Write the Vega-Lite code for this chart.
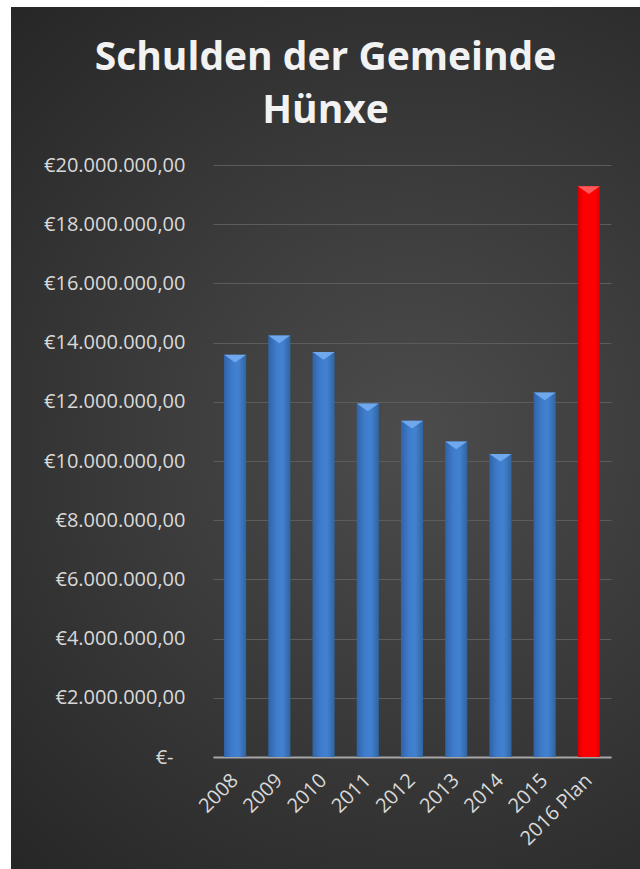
{
  "$schema": "https://vega.github.io/schema/vega-lite/v6.json",
  "autosize": {"type": "none"},
  "padding": {"left": 11, "top": 7, "right": 0, "bottom": 0},
  "width": 629,
  "height": 862,
  "background": "white",
  "title": {
    "text": ["Schulden der Gemeinde", "Hünxe"],
    "font": "Open Sans",
    "fontSize": 39,
    "fontWeight": "bold",
    "color": "#f2f2f2",
    "anchor": "middle",
    "frame": "group",
    "baseline": "top",
    "lineHeight": 53,
    "offset": -124
  },
  "data": {
    "values": [
      {"year": "2008", "value": 13590000},
      {"year": "2009", "value": 14240000},
      {"year": "2010", "value": 13680000},
      {"year": "2011", "value": 11940000},
      {"year": "2012", "value": 11360000},
      {"year": "2013", "value": 10660000},
      {"year": "2014", "value": 10240000},
      {"year": "2015", "value": 12310000},
      {"year": "2016 Plan", "value": 19280000}
    ]
  },
  "encoding": {
    "x": {
      "field": "year",
      "type": "nominal",
      "sort": null,
      "scale": {"range": [202, 600], "paddingInner": 0.5, "paddingOuter": 0.25},
      "axis": {
        "orient": "bottom",
        "offset": -112,
        "title": null,
        "domainColor": "#a6a6a6",
        "domainWidth": 2,
        "ticks": false,
        "tickSize": 0,
        "labelAngle": -45,
        "labelAlign": "right",
        "labelBaseline": "middle",
        "labelPadding": 20,
        "labelFont": "Open Sans",
        "labelFontSize": 20,
        "labelColor": "#d9d9d9"
      }
    },
    "y": {
      "field": "value",
      "type": "quantitative",
      "scale": {"domain": [0, 20000000], "range": [750, 158], "nice": false},
      "axis": {
        "orient": "left",
        "offset": -174,
        "title": null,
        "domain": false,
        "ticks": false,
        "tickSize": 0,
        "labelPadding": {"condition": {"test": "datum.value == 0", "value": 12}, "value": 0},
        "values": [0, 2000000, 4000000, 6000000, 8000000, 10000000, 12000000, 14000000, 16000000, 18000000, 20000000],
        "labelExpr": "datum.value == 0 ? '€-' : '€' + format(datum.value / 1000000, 'd') + '.000.000,00'",
        "labelFont": "Open Sans",
        "labelFontSize": 20,
        "labelColor": "#d9d9d9",
        "grid": true,
        "gridColor": "#5c5c5c",
        "gridWidth": 1.2
      }
    }
  },
  "layer": [
    {
      "mark": {"type": "bar"},
      "encoding": {
        "color": {
          "condition": {
            "test": "datum.year === '2016 Plan'",
            "value": {
              "gradient": "linear", "x1": 0, "y1": 0, "x2": 1, "y2": 0,
              "stops": [
                {"offset": 0, "color": "#d40000"},
                {"offset": 0.25, "color": "#ff0000"},
                {"offset": 0.8, "color": "#ff0000"},
                {"offset": 1, "color": "#d40000"}
              ]
            }
          },
          "value": {
            "gradient": "linear", "x1": 0, "y1": 0, "x2": 1, "y2": 0,
            "stops": [
              {"offset": 0, "color": "#2f63a8"},
              {"offset": 0.35, "color": "#3f7bcb"},
              {"offset": 0.65, "color": "#4281d1"},
              {"offset": 1, "color": "#30649f"}
            ]
          }
        }
      }
    },
    {
      "mark": {"type": "point", "shape": "M-1,0L1,0L0,0.7Z", "filled": true, "size": 484, "opacity": 1, "strokeWidth": 0},
      "encoding": {
        "color": {
          "condition": {"test": "datum.year === '2016 Plan'", "value": "#ff5a5a"},
          "value": "#6fa8ec"
        }
      }
    }
  ],
  "config": {
    "view": {
      "stroke": null,
      "fill": {
        "gradient": "radial",
        "x1": 0.6, "y1": 0.5, "r1": 0,
        "x2": 0.6, "y2": 0.5, "r2": 0.8,
        "stops": [
          {"offset": 0, "color": "#4c4c4c"},
          {"offset": 1, "color": "#202020"}
        ]
      }
    }
  }
}
